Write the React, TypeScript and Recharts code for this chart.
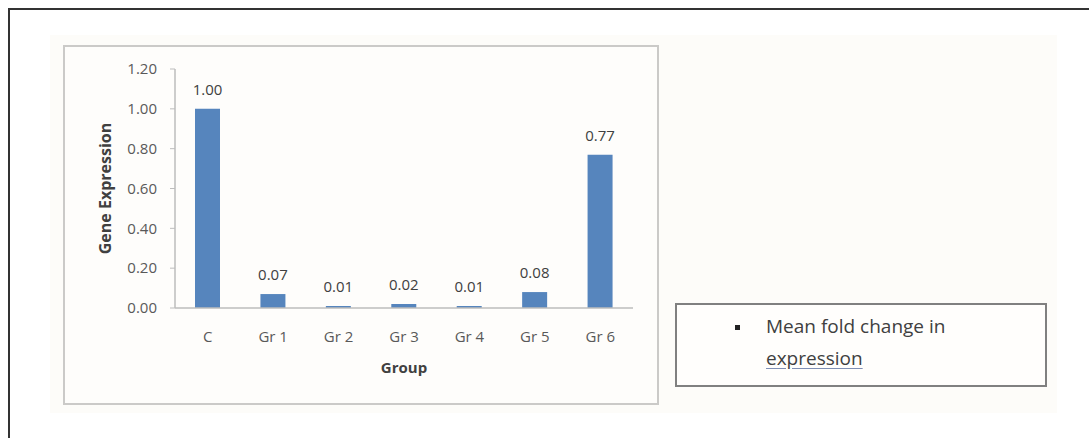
import React from "react";
import {
  BarChart,
  Bar,
  XAxis,
  YAxis,
  LabelList,
} from "recharts";

const groups = ["C", "Gr 1", "Gr 2", "Gr 3", "Gr 4", "Gr 5", "Gr 6"];
const foldChange = [1.0, 0.07, 0.01, 0.02, 0.01, 0.08, 0.77];
const yTicks = [0, 0.2, 0.4, 0.6, 0.8, 1.0, 1.2];
const legendLines = ["Mean fold change in", "expression"];

const data = groups.map((g, i) => ({ group: g, value: foldChange[i] }));

const FONT = "'Open Sans', 'Liberation Sans', sans-serif";

export default function App() {
  return (
    <div
      style={{
        position: "absolute",
        left: 0,
        top: 0,
        width: 1089,
        height: 438,
        overflow: "hidden",
        background: "#ffffff",
        fontFamily: FONT,
      }}
    >
      {/* outer frame, only top and left edges show */}
      <div
        style={{
          position: "absolute",
          left: 8,
          top: 8,
          width: 1200,
          height: 600,
          borderTop: "2px solid #333",
          borderLeft: "2px solid #333",
        }}
      />
      {/* light panel behind chart + legend */}
      <div
        style={{
          position: "absolute",
          left: 50,
          top: 35,
          width: 1007,
          height: 378,
          background: "#fdfcf9",
        }}
      />
      {/* chart box */}
      <div
        style={{
          position: "absolute",
          left: 63,
          top: 45,
          width: 592,
          height: 356,
          border: "2px solid #cbcac8",
          background: "#fefdfb",
        }}
      />
      <div style={{ position: "absolute", left: 63, top: 45 }}>
        <BarChart
          width={596}
          height={360}
          data={data}
          margin={{ top: 24, right: 26, bottom: 0, left: 0 }}
          barSize={25}
        >
          <XAxis
            dataKey="group"
            height={97}
            tickLine={false}
            tickSize={0}
            tickMargin={23}
            axisLine={{ stroke: "#bdbdbd", strokeWidth: 1.5 }}
            tick={{ fontSize: 15, fill: "#595959", fontFamily: FONT }}
            label={{
              value: "Group",
              position: "insideBottom",
              offset: 32,
              style: { fontSize: 15, fontWeight: 700, fill: "#404040", fontFamily: FONT },
            }}
          />
          <YAxis
            width={112}
            domain={[0, 1.2]}
            ticks={yTicks}
            tickFormatter={(v: number) => v.toFixed(2)}
            tickSize={5}
            tickMargin={13}
            axisLine={{ stroke: "#bdbdbd", strokeWidth: 1.5 }}
            tickLine={{ stroke: "#bdbdbd" }}
            tick={{ fontSize: 15, fill: "#595959", fontFamily: FONT }}
            label={{
              value: "Gene Expression",
              angle: -90,
              position: "insideLeft",
              offset: 42,
              style: {
                fontSize: 16,
                fontWeight: 700,
                fill: "#404040",
                fontFamily: FONT,
                textAnchor: "middle",
              },
            }}
          />
          <Bar dataKey="value" fill="#5685bd" isAnimationActive={false}>
            <LabelList
              dataKey="value"
              position="top"
              offset={14}
              formatter={(v: number) => Number(v).toFixed(2)}
              style={{ fontSize: 15, fill: "#404040", fontFamily: FONT }}
            />
          </Bar>
        </BarChart>
      </div>
      {/* legend text box */}
      <div
        style={{
          position: "absolute",
          left: 675,
          top: 303,
          width: 368,
          height: 80,
          border: "2px solid #808080",
          background: "#fffefc",
          color: "#404040",
          fontSize: 19,
        }}
      >
        <div
          style={{
            position: "absolute",
            left: 58,
            top: 20,
            width: 5,
            height: 5,
            background: "#222",
          }}
        />
        <div style={{ position: "absolute", left: 89, top: 8, whiteSpace: "nowrap" }}>
          {legendLines[0]}
        </div>
        <div
          style={{
            position: "absolute",
            left: 89,
            top: 40,
            whiteSpace: "nowrap",
            textDecoration: "underline",
            textDecorationColor: "#7f8fb5",
            textUnderlineOffset: 3,
          }}
        >
          {legendLines[1]}
        </div>
      </div>
    </div>
  );
}
